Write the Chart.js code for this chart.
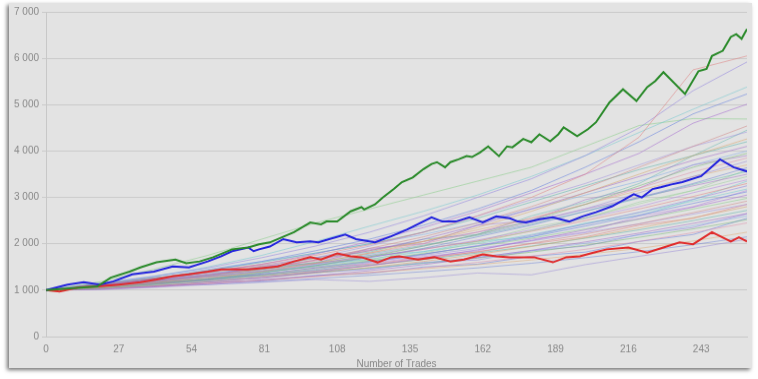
<!DOCTYPE html>
<html lang="en">
<head>
  <meta charset="UTF-8" />
  <title>Equity Curves</title>
  <script src="https://cdn.jsdelivr.net/npm/chart.js"></script>
  <style>
    html, body {
      margin: 0;
      padding: 0;
      background: #fff;
      width: 758px;
      height: 379px;
      overflow: hidden;
    }
    .card {
      position: absolute;
      left: 9px;
      top: 3px;
      width: 743px;
      height: 365px;
      background: #e3e3e3;
      box-shadow: -2px 2px 4px rgba(0,0,0,0.55);
    }
    canvas {
      width: 743px !important;
      height: 365px !important;
    }
  </style>
</head>
<body>
  <div class="card">
    <canvas id="chart"></canvas>
  </div>

  <script>
    // Bold runs: best (green), median (blue), worst (red)
    const greenTrades = [0,19,24,31,35,41,48,52,57,62,69,75,79,83,92,98,102,104,108,113,117,118,122,125,129,132,136,140,143,145,148,150,153,156,158,161,164,168,171,173,177,180,183,187,190,192,197,201,204,209,214,219,223,226,229,237,242,245,247,251,254,256,258,260];
    const greenValues = [1000,1080,1270,1400,1490,1600,1660,1580,1620,1710,1880,1920,1990,2030,2250,2460,2420,2480,2480,2700,2790,2740,2850,3000,3180,3330,3430,3610,3720,3760,3650,3760,3820,3890,3870,3970,4100,3890,4100,4080,4260,4190,4360,4210,4360,4510,4320,4470,4620,5050,5330,5080,5380,5510,5700,5230,5720,5770,6050,6160,6460,6520,6420,6630];

    const blueTrades = [0,8,14,20,25,32,40,47,53,60,65,69,75,77,79,83,88,93,98,101,105,111,115,122,128,134,143,147,152,157,162,167,172,175,178,183,188,194,199,204,210,218,221,225,228,232,236,243,246,250,255,260];
    const blueValues = [1000,1120,1170,1120,1190,1340,1400,1510,1490,1620,1730,1840,1920,1840,1880,1940,2100,2030,2050,2030,2100,2200,2100,2030,2160,2310,2570,2480,2480,2570,2460,2590,2550,2480,2460,2530,2570,2480,2590,2680,2810,3070,3000,3180,3220,3280,3330,3460,3610,3820,3650,3560];

    const redTrades = [0,5,12,19,27,35,41,47,53,60,65,69,75,79,86,92,98,102,108,113,117,123,128,131,138,144,150,155,162,167,172,181,188,193,198,203,208,216,223,229,235,240,247,254,257,260];
    const redValues = [1000,970,1060,1080,1120,1170,1230,1300,1340,1400,1450,1450,1450,1470,1510,1620,1710,1660,1790,1730,1710,1600,1710,1730,1660,1710,1620,1660,1770,1730,1710,1710,1600,1710,1730,1810,1880,1920,1810,1920,2030,1990,2250,2050,2140,2050];

    // Faint runs, read every 20 trades
    const faintTrades = [0,20,40,60,80,100,120,140,160,180,200,220,240,260];
    const faintRuns = [
      [1000,1120,1260,1400,1560,1750,1980,2250,2600,3000,3500,4300,5750,6050],
      [1000,1150,1300,1480,1700,1950,2250,2600,3000,3400,3900,4500,5300,5920],
      [1000,1130,1290,1500,1750,2050,2380,2700,3050,3450,3900,4400,4900,5380],
      [1000,1100,1250,1420,1620,1850,2100,2400,2750,3150,3650,4200,4800,5230],
      [1000,1120,1240,1380,1560,1780,2050,2350,2700,3100,3500,3950,4600,5010],
      [1000,1180,1450,1750,2100,2450,2750,3050,3350,3650,4100,4550,4700,4690],
      [1000,1080,1180,1300,1450,1650,1900,2150,2450,2800,3200,3650,4100,4540],
      [1000,1100,1220,1350,1500,1700,1950,2250,2600,2950,3300,3700,4100,4410],
      [1000,1060,1150,1260,1400,1580,1800,2050,2350,2700,3100,3500,3900,4260],
      [1000,1120,1260,1420,1600,1800,2000,2250,2550,2900,3250,3600,3900,4200],
      [1000,1090,1200,1330,1480,1650,1850,2100,2400,2750,3100,3450,3800,4100],
      [1000,1140,1300,1450,1620,1800,2000,2200,2450,2750,3050,3350,3700,4000],
      [1000,1050,1130,1230,1370,1530,1720,1950,2200,2500,2850,3250,3650,3950],
      [1000,1100,1210,1330,1470,1630,1800,2000,2250,2550,2850,3200,3550,3850],
      [1000,1070,1170,1290,1420,1570,1750,1950,2200,2450,2750,3100,3450,3780],
      [1000,1120,1250,1380,1520,1680,1850,2050,2300,2550,2850,3150,3450,3700],
      [1000,1060,1140,1250,1380,1530,1700,1900,2150,2400,2700,3000,3300,3640],
      [1000,1090,1200,1320,1450,1600,1780,1970,2180,2420,2700,2980,3280,3560],
      [1000,1130,1260,1400,1540,1700,1870,2050,2250,2480,2750,3000,3250,3500],
      [1000,1040,1110,1200,1320,1460,1620,1800,2020,2280,2560,2860,3150,3450],
      [1000,1080,1180,1290,1410,1550,1710,1880,2080,2300,2550,2800,3100,3380],
      [1000,1110,1220,1330,1450,1580,1720,1880,2060,2270,2500,2750,3020,3300],
      [1000,1050,1120,1210,1320,1450,1600,1770,1960,2180,2420,2680,2960,3250],
      [1000,1100,1200,1300,1410,1530,1670,1830,2000,2200,2430,2670,2920,3180],
      [1000,1070,1150,1240,1350,1480,1620,1780,1950,2150,2380,2620,2870,3120],
      [1000,1030,1090,1170,1270,1390,1530,1690,1870,2070,2300,2540,2790,3050],
      [1000,1090,1180,1280,1390,1510,1640,1780,1940,2120,2320,2530,2750,2980],
      [1000,1060,1130,1210,1300,1410,1530,1670,1830,2010,2210,2430,2670,2920],
      [1000,1110,1210,1300,1400,1500,1620,1750,1900,2060,2240,2430,2640,2850],
      [1000,1040,1100,1180,1270,1370,1490,1620,1770,1940,2130,2340,2560,2800],
      [1000,1080,1160,1240,1330,1430,1540,1660,1800,1950,2120,2300,2500,2720],
      [1000,1020,1070,1140,1220,1310,1420,1550,1700,1860,2040,2230,2440,2650],
      [1000,1060,1130,1200,1280,1370,1470,1580,1710,1850,2010,2190,2390,2600],
      [1000,1090,1170,1240,1310,1390,1480,1580,1690,1820,1970,2140,2320,2520],
      [1000,1030,1080,1140,1210,1290,1380,1480,1600,1730,1880,2050,2240,2450],
      [1000,1010,1060,1120,1170,1230,1190,1270,1370,1330,1550,1730,1900,2100],
      [1000,1040,1090,1150,1220,1300,1380,1460,1550,1650,1770,1900,2060,2250],
      [1000,1050,1100,1120,1180,1250,1320,1400,1480,1580,1700,1830,1980,2150],
      [1000,1150,1220,1380,1450,1700,1820,2100,2200,2600,2900,3300,3900,4450],
      [1000,1060,1240,1300,1520,1580,1900,2000,2400,2500,2950,3200,3700,3900],
      [1000,1120,1180,1350,1420,1600,1650,1900,2050,2350,2550,2900,3150,3600],
      [1000,1030,1150,1200,1350,1420,1580,1720,1850,2100,2250,2600,2800,3150],
      [1000,1100,1160,1290,1330,1480,1560,1700,1820,2000,2150,2400,2550,2850],
      [1000,1070,1120,1220,1250,1380,1450,1600,1650,1850,1950,2200,2350,2650],
      [1000,1140,1270,1330,1500,1560,1750,1830,2050,2150,2450,2600,2950,3350],
      [1000,1050,1080,1180,1200,1320,1360,1500,1560,1730,1820,2050,2200,2550]
    ];
    const faintColors = ['#e07a7a','#8a7ae0','#6cc8d0','#5a78e0','#a060d0','#80cc80','#d08080','#9c8ce0','#d8a060','#50b0a8','#9a60c8','#7aa8e8','#70b870','#e08aa8','#9888d8','#e0a870','#6a80d8','#60b8b0','#a070c8','#98d098','#b080e0'];

    const yTicks = [0,1000,2000,3000,4000,5000,6000,7000];
    const xTicks = [0,27,54,81,108,135,162,189,216,243];

    const pts = (xs, ys) => xs.map((x, i) => ({ x: x, y: ys[i] }));
    const fmt = v => String(v).replace(/\B(?=(\d{3})+(?!\d))/g, ' ');

    function hexA(hex, a) {
      const n = parseInt(hex.slice(1), 16);
      return `rgba(${n >> 16},${(n >> 8) & 255},${n & 255},${a})`;
    }

    const datasets = [
      { data: pts(greenTrades, greenValues), borderColor: '#2a8a2a', borderWidth: 2 },
      { data: pts(blueTrades, blueValues), borderColor: '#2222dd', borderWidth: 2 },
      { data: pts(redTrades, redValues), borderColor: '#e02a2a', borderWidth: 2 }
    ];
    faintRuns.forEach((run, i) => {
      datasets.push({
        data: pts(faintTrades, run),
        borderColor: hexA(faintColors[i % faintColors.length], 0.5),
        borderWidth: 1
      });
    });

    new Chart(document.getElementById('chart'), {
      type: 'line',
      data: { datasets: datasets },
      options: {
        responsive: false,
        animation: false,
        layout: { padding: { left: 2, right: 5, top: 8, bottom: -2 } },
        elements: { point: { radius: 0 }, line: { tension: 0 } },
        plugins: { legend: { display: false }, tooltip: { enabled: false } },
        scales: {
          x: {
            type: 'linear',
            min: 0,
            max: 260,
            afterBuildTicks: axis => { axis.ticks = xTicks.map(v => ({ value: v })); },
            ticks: { color: '#888', font: { family: 'Liberation Sans', size: 10 }, maxRotation: 0, padding: -1 },
            grid: { display: false },
            border: { display: true, color: '#c8c8c8' },
            title: { display: true, text: 'Number of Trades', color: '#888', font: { family: 'Liberation Sans', size: 10 }, padding: { top: 4, bottom: 0 } }
          },
          y: {
            min: 0,
            max: 7000,
            afterBuildTicks: axis => { axis.ticks = yTicks.map(v => ({ value: v })); },
            ticks: { color: '#888', font: { family: 'Liberation Sans', size: 10 }, callback: v => fmt(v), padding: 3 },
            grid: { color: '#cacaca', tickLength: 4 },
            border: { display: true, color: '#c8c8c8' }
          }
        }
      }
    });
  </script>
</body>
</html>
